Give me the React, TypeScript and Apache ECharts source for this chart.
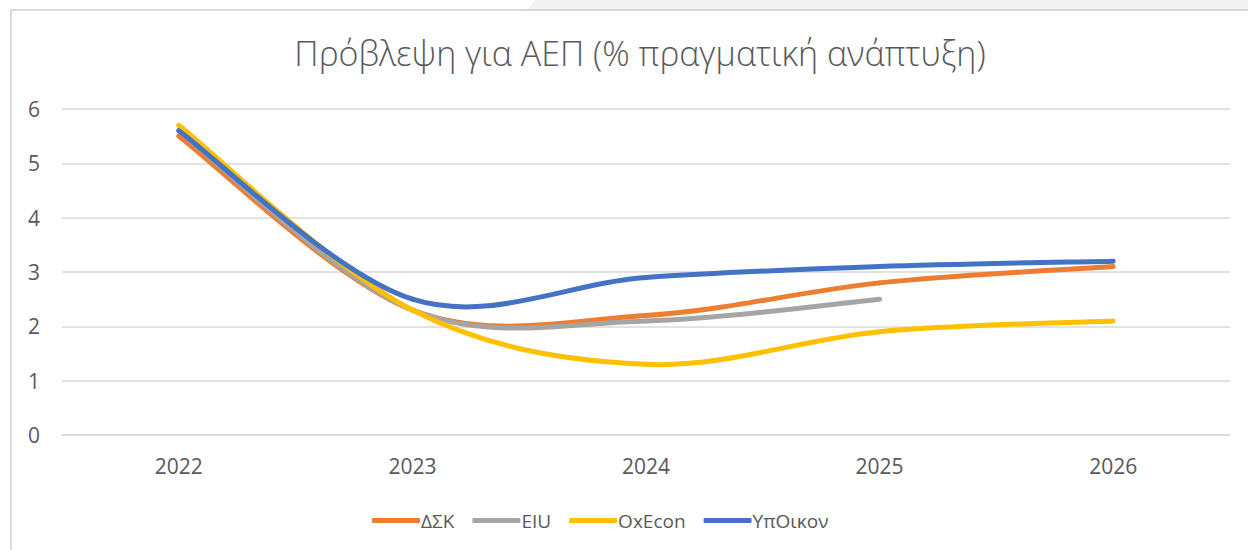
import React, { useEffect, useRef } from "react";
import * as echarts from "echarts";

const categories = ["2022", "2023", "2024", "2025", "2026"];
const dsk = [5.5, 2.3, 2.2, 2.8, 3.1];
const eiu = [5.6, 2.3, 2.1, 2.5, null];
const oxecon = [5.7, 2.3, 1.3, 1.9, 2.1];
const ypoikon = [5.6, 2.5, 2.9, 3.1, 3.2];
const seriesNames = ["ΔΣΚ", "EIU", "OxEcon", "ΥπΟικον"];
const colors = ["#ED7D31", "#A5A5A5", "#FFC000", "#4472C4"];
const titleText = "Πρόβλεψη για ΑΕΠ (% πραγματική ανάπτυξη)";

function smoothSeries(name: string, values: (number | null)[], color: string) {
  const data = values
    .map((v, i) => [i, v])
    .filter((d) => d[1] !== null && d[1] !== undefined);
  return {
    name,
    type: "custom",
    data,
    encode: { x: 0, y: 1 },
    itemStyle: { color },
    renderItem: (params: any, api: any) => {
      const i = params.dataIndexInside;
      const n = params.dataInsideLength;
      if (i >= n - 1) return null;
      const pt = (k: number) => api.coord([api.value(0, k), api.value(1, k)]);
      const p1 = pt(i);
      const p2 = pt(i + 1);
      const p0 = i > 0 ? pt(i - 1) : p1;
      const p3 = i + 2 < n ? pt(i + 2) : p2;
      const k = 6;
      return {
        type: "bezierCurve",
        shape: {
          x1: p1[0],
          y1: p1[1],
          x2: p2[0],
          y2: p2[1],
          cpx1: p1[0] + (p2[0] - p0[0]) / k,
          cpy1: p1[1] + (p2[1] - p0[1]) / k,
          cpx2: p2[0] - (p3[0] - p1[0]) / k,
          cpy2: p2[1] - (p3[1] - p1[1]) / k,
        },
        style: { stroke: color, lineWidth: 5, fill: "none", lineCap: "round" },
      };
    },
  };
}

export default function App() {
  const ref = useRef<HTMLDivElement>(null);
  useEffect(() => {
    if (!ref.current) return;
    const chart = echarts.init(ref.current, null, { renderer: "svg" });
    const datas = [dsk, eiu, oxecon, ypoikon];
    chart.setOption({
      animation: false,
      backgroundColor: "#ffffff",
      textStyle: { fontFamily: "Open Sans" },
      title: {
        text: titleText,
        left: 635,
        textAlign: "center",
        top: 31,
        textStyle: { fontFamily: "Open Sans", fontWeight: 300, fontSize: 34, color: "#595959" },
      },
      graphic: [
        {
          type: "polygon",
          shape: { points: [[535, 0], [1248, 0], [1248, 9], [527, 9]] },
          style: { fill: "#f3f3f3" },
          silent: true,
        },
        {
          type: "line",
          shape: { x1: 10, y1: 10, x2: 1248, y2: 10 },
          style: { stroke: "#d9d9d9", lineWidth: 2 },
          silent: true,
        },
        {
          type: "line",
          shape: { x1: 11, y1: 10, x2: 11, y2: 550 },
          style: { stroke: "#d9d9d9", lineWidth: 2 },
          silent: true,
        },
      ],
      legend: {
        top: 506,
        left: 367,
        itemWidth: 48,
        itemHeight: 5,
        itemGap: 18,
        icon: "roundRect",
        textStyle: { fontSize: 19, color: "#595959", fontFamily: "Open Sans", padding: [0, 0, 0, -4] },
        data: seriesNames,
      },
      grid: { left: 62, right: 18, top: 109, bottom: 115 },
      xAxis: {
        type: "category",
        data: categories,
        boundaryGap: true,
        axisLine: { show: true, lineStyle: { color: "#d9d9d9", width: 1.5 } },
        axisTick: { show: false },
        axisLabel: { fontSize: 21, color: "#595959", margin: 20 },
      },
      yAxis: {
        type: "value",
        min: 0,
        max: 6,
        interval: 1,
        axisLine: { show: false },
        axisTick: { show: false },
        axisLabel: { fontSize: 21, color: "#595959", margin: 34, align: "left" },
        splitLine: { lineStyle: { color: "#d9d9d9", width: 1.5 } },
      },
      series: seriesNames.map((n, i) => smoothSeries(n, datas[i], colors[i])),
    });
    return () => chart.dispose();
  }, []);
  return (
    <div
      ref={ref}
      style={{ position: "fixed", left: 0, top: 0, width: 1248, height: 550 }}
    />
  );
}
